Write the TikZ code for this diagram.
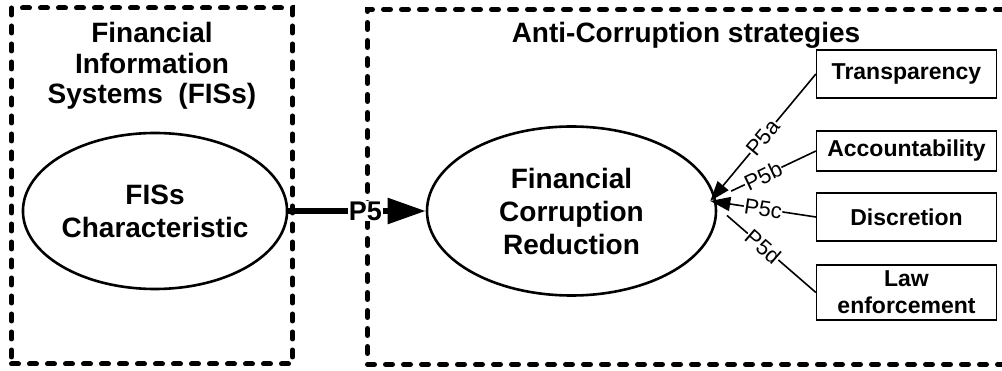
\documentclass[tikz,border=0pt]{standalone}
\usepackage{fontspec}
\setmainfont{Liberation Sans}
\usepackage{tikz}
\usetikzlibrary{shapes,arrows,arrows.meta}
\usetikzlibrary{positioning,fit}
\tikzstyle{construct} = [draw, ellipse, line width=2.6pt, inner sep=0pt,
    align=center, font=\bfseries\fontsize{28}{33}\selectfont]
\tikzstyle{groupbox} = [draw, rectangle, line width=5pt,
    dash pattern=on 7pt off 11pt, line cap=round]
\tikzstyle{heading} = [align=center, font=\bfseries\fontsize{28}{30.5}\selectfont]
\tikzstyle{strategy} = [draw, rectangle, line width=1.2pt, minimum width=180pt,
    align=center, font=\bfseries\fontsize{23}{27}\selectfont]
\tikzstyle{link} = [line width=1.6pt]
\tikzstyle{plabel} = [sloped, fill=white, inner sep=0.5pt,
    font=\fontsize{22}{22}\selectfont]

\begin{document}
\begin{tikzpicture}[node distance = 3cm]
  \useasboundingbox (0,0) rectangle (1002pt,-371pt);
  % grouping boxes
  \node [groupbox, minimum width=281pt, minimum height=356pt] (fisbox)
  at (152pt,-186pt) {};
  \node [groupbox, minimum width=653pt, minimum height=355pt] (acsbox)
  at (694pt,-187pt) {};
  \node [heading] (fistitle) at (152pt,-66pt)
  {Financial\\Information\\Systems\ \ (FISs)};
  \node [heading] (acstitle) at (686pt,-35pt) {Anti-Corruption strategies};
  % constructs
  \node [construct, minimum width=264pt, minimum height=156pt] (fisc)
  at (155pt,-211pt) {FISs\\Characteristic};
  \node [construct, minimum width=289pt, minimum height=169pt,
  right of=fisc, node distance=416.5pt] (fcr) {Financial\\Corruption\\Reduction};
  % strategies
  \node [strategy, minimum height=48pt] (trans) at (906.5pt,-74pt) {Transparency};
  \node [strategy, minimum height=40pt, below of=trans, node distance=77pt] (acc)
  {Accountability};
  \node [strategy, minimum height=48pt, below of=acc, node distance=66pt] (disc)
  {Discretion};
  \node [strategy, minimum height=55pt, below of=disc, node distance=75.5pt] (law)
  {Law\\enforcement};
  \coordinate (tip) at ([shift={(-7pt,10pt)}]fcr.east);
  % paths
  \draw [-{Triangle[length=38pt,width=25pt]}, line width=5.5pt] (fisc.east) --
  node [pos=0.56, fill=white, inner sep=1pt,
  font=\bfseries\fontsize{27}{27}\selectfont] {P5} (fcr.west);
  \draw [link, -{Triangle[length=20pt,width=14pt]}] (trans.west) --
  node [plabel] {P5a} (tip);
  \draw [link, shorten >=23pt] (acc.west) -- node [plabel] {P5b} (tip);
  \draw [link, -{Triangle[length=20pt,width=14pt]}] (disc.west) --
  node [plabel] {P5c} (tip);
  \draw [link, shorten >=22pt] (law.west) -- node [plabel] {P5d} (tip);
\end{tikzpicture}
\end{document}
